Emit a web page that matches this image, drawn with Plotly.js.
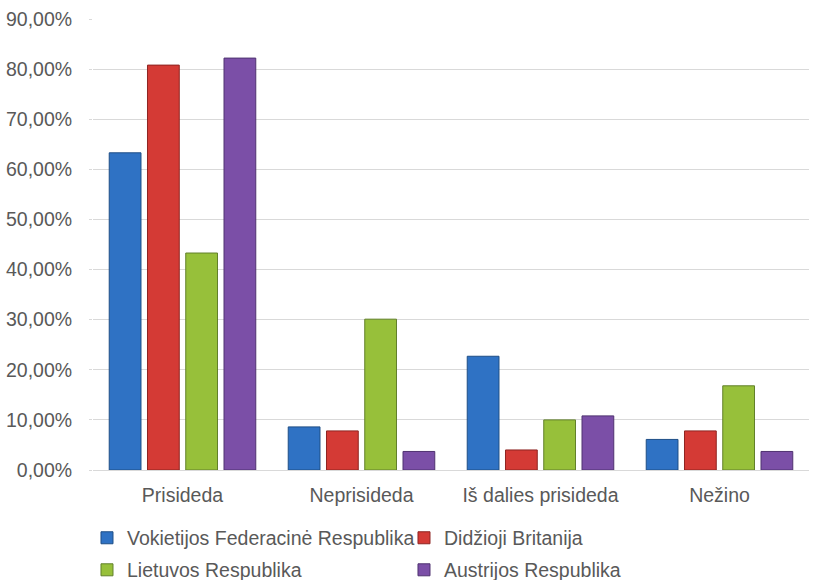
<!DOCTYPE html>
<html>
<head>
<meta charset="utf-8">
<script src="https://cdn.plot.ly/plotly-3.0.1.min.js"></script>
<style>html,body{margin:0;padding:0;background:#fff}</style>
</head>
<body>
<div id="chart" style="width:819px;height:580px"></div>
<script>
const categories = ["Prisideda", "Neprisideda", "Iš dalies prisideda", "Nežino"];
const seriesNames = ["Vokietijos Federacinė Respublika", "Didžioji Britanija", "Lietuvos Respublika", "Austrijos Respublika"];
const vokietija = [63.3, 8.6, 22.7, 6.1];
const britanija = [80.8, 7.8, 4.0, 7.8];
const lietuva = [43.3, 30.1, 10.0, 16.8];
const austrija = [82.2, 3.7, 10.8, 3.7];
const tickVals = [0, 10, 20, 30, 40, 50, 60, 70, 80, 90];
const tickText = ["0,00%", "10,00%", "20,00%", "30,00%", "40,00%", "50,00%", "60,00%", "70,00%", "80,00%", "90,00%"];

const colors = ["#2F72C4", "#D43A35", "#97C03A", "#7B4FA7"];
const lines = ["#1F4E86", "#8E2421", "#62802A", "#4F3270"];
const values = [vokietija, britanija, lietuva, austrija];
const legendIds = ["legend", "legend", "legend2", "legend2"];

const traces = values.map((v, i) => ({
  type: "bar",
  name: seriesNames[i],
  x: categories,
  y: v,
  legend: legendIds[i],
  marker: {color: colors[i], line: {color: lines[i], width: 1}},
  hoverinfo: "skip"
}));

const fs = 19.5;
const font = {family: "Liberation Sans, Arial, sans-serif", size: fs, color: "#595959"};

const legendBase = {
  orientation: "h", x: -0.0084, xanchor: "left", yanchor: "middle",
  entrywidth: 272, entrywidthmode: "pixels", itemwidth: 30,
  font: {size: fs, color: "#595959"}, bgcolor: "rgba(0,0,0,0)"
};

const layout = {
  width: 819, height: 580,
  margin: {l: 93, r: 10, t: 19, b: 110, autoexpand: false},
  paper_bgcolor: "#ffffff",
  plot_bgcolor: "#ffffff",
  font: font,
  barmode: "group",
  bargap: 0.145,
  bargroupgap: 0.17,
  showlegend: true,
  xaxis: {
    showgrid: false, showline: true, linecolor: "#D9D9D9", linewidth: 1,
    ticks: "", ticklabelstandoff: 8,
    tickfont: {size: fs, color: "#595959"}, fixedrange: true
  },
  yaxis: {
    range: [0, 90], tickvals: tickVals, ticktext: tickText,
    showgrid: true, gridcolor: "#D9D9D9", gridwidth: 1, zeroline: false,
    ticks: "outside", ticklen: 3, tickcolor: "#D9D9D9", ticklabelstandoff: 13,
    tickfont: {size: fs, color: "#595959"}, fixedrange: true
  },
  legend: Object.assign({}, legendBase, {y: -0.151}),
  legend2: Object.assign({}, legendBase, {y: -0.222})
};

Plotly.newPlot("chart", traces, layout, {displayModeBar: false, staticPlot: true});
</script>
</body>
</html>
